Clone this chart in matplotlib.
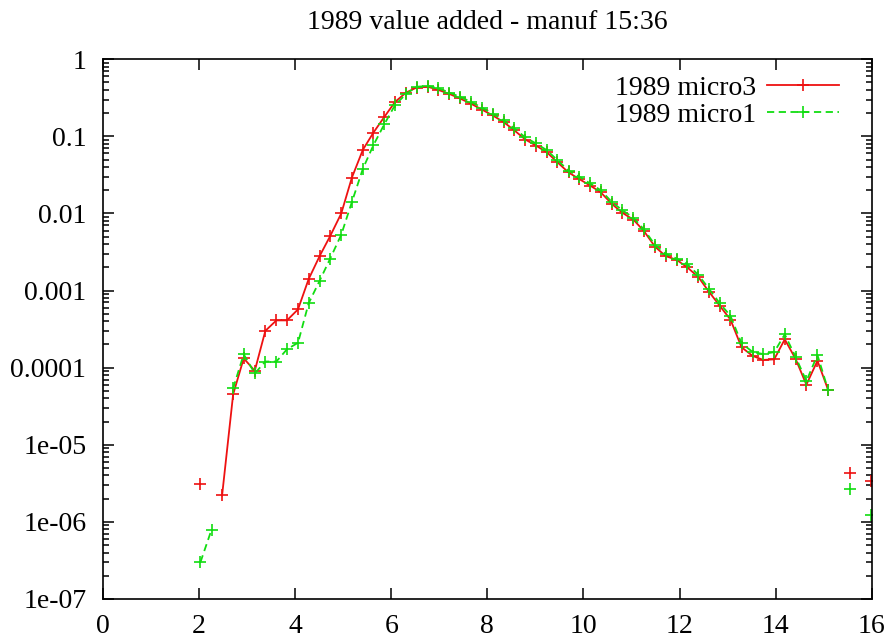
import numpy as np
import matplotlib
matplotlib.use("Agg")
import matplotlib.pyplot as plt
from matplotlib.ticker import LogLocator, NullFormatter, FixedLocator

nan = np.nan

x = [2.03, 2.26, 2.48, 2.71, 2.93, 3.16, 3.38, 3.61, 3.83, 4.06,
     4.28, 4.51, 4.73, 4.96, 5.18, 5.41, 5.63, 5.86, 6.08, 6.31,
     6.53, 6.76, 6.98, 7.21, 7.43, 7.66, 7.89, 8.11, 8.34, 8.56,
     8.79, 9.01, 9.24, 9.46, 9.69, 9.91, 10.14, 10.36, 10.59, 10.81,
     11.04, 11.26, 11.49, 11.71, 11.94, 12.16, 12.39, 12.61, 12.84, 13.06,
     13.29, 13.52, 13.74, 13.97, 14.19, 14.42, 14.64, 14.87, 15.09, 15.32,
     15.54, 15.77, 15.99]

micro3 = [3.1e-6, nan, 2.2e-6, 4.5e-5, 1.32e-4, 9.1e-5, 3.0e-4, 4.1e-4, 4.1e-4, 5.7e-4,
          1.4e-3, 2.8e-3, 5.1e-3, 1.0e-2, 2.9e-2, 6.7e-2, 0.112, 0.18, 0.28, 0.37,
          0.43, 0.44, 0.40, 0.355, 0.31, 0.265, 0.222, 0.187, 0.153, 0.12,
          0.091, 0.076, 0.062, 0.046, 0.034, 0.028, 0.023, 0.0188, 0.0133, 0.0102,
          0.0083, 0.0059, 0.0037, 0.0028, 0.0025, 0.0020, 0.0015, 0.00097, 6.3e-4, 4.2e-4,
          1.84e-4, 1.42e-4, 1.26e-4, 1.28e-4, 2.33e-4, 1.28e-4, 6.0e-5, 1.23e-4, 5.2e-5, nan,
          4.3e-6, nan, 3.4e-6]

micro1 = [3.0e-7, 7.9e-7, nan, 5.4e-5, 1.49e-4, 8.4e-5, 1.2e-4, 1.2e-4, 1.73e-4, 2.1e-4,
          6.8e-4, 1.34e-3, 2.6e-3, 5.3e-3, 1.4e-2, 3.8e-2, 7.7e-2, 0.145, 0.255, 0.355,
          0.44, 0.45, 0.42, 0.37, 0.325, 0.28, 0.235, 0.197, 0.162, 0.127,
          0.097, 0.081, 0.066, 0.049, 0.036, 0.030, 0.0245, 0.020, 0.0141, 0.011,
          0.0088, 0.0062, 0.0039, 0.0030, 0.0026, 0.0022, 0.0016, 0.00106, 6.8e-4, 4.7e-4,
          2.07e-4, 1.6e-4, 1.5e-4, 1.59e-4, 2.7e-4, 1.36e-4, 6.7e-5, 1.46e-4, 5.2e-5, nan,
          2.7e-6, nan, 1.23e-6]

xticks = [0, 2, 4, 6, 8, 10, 12, 14, 16]
yticks = [1, 0.1, 0.01, 0.001, 0.0001, 1e-5, 1e-6, 1e-7]
ylabels = ["1", "0.1", "0.01", "0.001", "0.0001", "1e-05", "1e-06", "1e-07"]

plt.rcParams["font.family"] = ["Liberation Serif", "DejaVu Serif"]
fs = 20

fig = plt.figure(figsize=(8.95, 6.44), dpi=100)
ax = fig.add_axes([0.115, 0.070, 0.859, 0.838])

ax.plot(x, micro3, color="#ee1111", lw=1.3, marker="+", ms=9, mew=1.2,
        label="1989 micro3")
ax.plot(x, micro1, color="#11dd11", lw=1.3, ls=(0, (4, 2.5)), marker="+", ms=9, mew=1.2,
        label="1989 micro1")

ax.set_yscale("log")
ax.set_xlim(0, 16)
ax.set_ylim(1e-7, 1)
ax.set_xticks(xticks)
ax.set_xticklabels([str(t) for t in xticks])
ax.yaxis.set_major_locator(FixedLocator(yticks))
ax.set_yticklabels(ylabels)
ax.yaxis.set_minor_locator(LogLocator(base=10, subs=np.arange(2, 10) * 1.0, numticks=20))
ax.yaxis.set_minor_formatter(NullFormatter())

ax.tick_params(which="both", direction="in", top=True, right=True, labelsize=fs, width=1.1)
ax.tick_params(which="major", length=8)
ax.tick_params(which="minor", length=4)
ax.tick_params(axis="x", pad=11)
ax.tick_params(axis="y", pad=12)
for s in ax.spines.values():
    s.set_linewidth(1.2)

ax.set_title("1989 value added - manuf 15:36", fontsize=fs, pad=22)

ax.legend(loc="upper right", bbox_to_anchor=(0.972, 0.99), borderaxespad=0,
          frameon=False, markerfirst=False, fontsize=fs,
          handlelength=2.6, handletextpad=0.4, labelspacing=0.05)

fig.savefig("out.png", dpi=100)
